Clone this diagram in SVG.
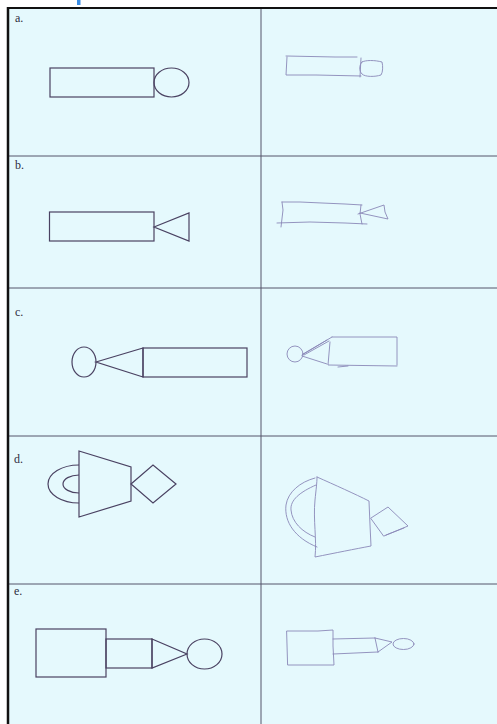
<svg xmlns="http://www.w3.org/2000/svg" width="497" height="724" viewBox="0 0 497 724">
<style>
.print{fill:none;stroke:#4a4262;stroke-width:1.2;stroke-linejoin:miter}
.pencil{fill:none;stroke:#8a88b8;stroke-width:0.9;stroke-linecap:round;stroke-linejoin:round}
.grid{stroke:#55556a;stroke-width:1}
.lbl{font-family:"Liberation Serif",serif;font-size:12px;fill:#2e2e3e}
</style>
<rect x="0" y="0" width="497" height="724" fill="#ffffff"/>
<rect x="8" y="8" width="489" height="716" fill="#e5f9fd"/>
<rect x="77" y="0" width="3.5" height="5" fill="#3a8ee6"/>
<g id="grid">
<line class="grid" x1="261" y1="9" x2="261" y2="724"/>
<line class="grid" x1="9" y1="156" x2="497" y2="156"/>
<line class="grid" x1="9" y1="288" x2="497" y2="288"/>
<line class="grid" x1="9" y1="436" x2="497" y2="436"/>
<line class="grid" x1="9" y1="584" x2="497" y2="584"/>
<line x1="7" y1="8" x2="497" y2="8" stroke="#111" stroke-width="2"/>
<line x1="8" y1="7" x2="8" y2="724" stroke="#111" stroke-width="2.5"/>
</g>
<g id="labels">
<text class="lbl" x="15" y="22">a.</text>
<text class="lbl" x="15" y="169">b.</text>
<text class="lbl" x="15" y="316">c.</text>
<text class="lbl" x="14" y="463">d.</text>
<text class="lbl" x="14" y="595">e.</text>
</g>
<g id="shape-a">
<rect class="print" x="50" y="68" width="104" height="29"/>
<ellipse class="print" cx="171.5" cy="82.5" rx="17.5" ry="14.5"/>
</g>
<g id="shape-b">
<rect class="print" x="49.5" y="212" width="104.5" height="29"/>
<polygon class="print" points="154,227 189,213 189,241"/>
</g>
<g id="shape-c">
<ellipse class="print" cx="84" cy="362" rx="12" ry="15"/>
<polygon class="print" points="96,362 143,348 143,377"/>
<rect class="print" x="143" y="348" width="104" height="29"/>
</g>
<g id="shape-d">
<path class="print" d="M79,465 A31,19 0 0 0 79,503 M79,475 A16,9 0 0 0 79,493"/>
<polygon class="print" points="79,451 131,467 131,501 79,517"/>
<polygon class="print" points="131,484 153,465 176,484 153,503"/>
</g>
<g id="shape-e">
<rect class="print" x="36" y="629" width="70" height="48"/>
<rect class="print" x="106" y="639" width="46" height="29"/>
<polygon class="print" points="152,639 187,654 152,668"/>
<ellipse class="print" cx="204.5" cy="654" rx="17.5" ry="15"/>
</g>
<g id="sketch-a">
<path class="pencil" d="M286,56 L335,57 L357,57 M287,57 L286,75 L316,75 L361,76 M361,58 L360,77"/>
<path class="pencil" d="M362,62 C365,60 375,60 382,62 C383,66 383,72 381,75 C375,77 365,77 362,74 C359,71 359,65 362,62 Z"/>
</g>
<g id="sketch-b">
<path class="pencil" d="M282,202 L300,202 L322,203 L345,204 L362,205 M282,202 L283,210 L281,227 M277,223 L310,222 L345,223 L367,224 M361,205 L360,214 L362,224"/>
<path class="pencil" d="M358,214 L384,205 L385,212 L388,219 L360,213"/>
</g>
<g id="sketch-c">
<circle class="pencil" cx="295" cy="354" r="8"/>
<path class="pencil" d="M302,355 L332,337 M303,354 L327,340 M304,355 L329,341 M302,356 L327,364"/>
<path class="pencil" d="M332,337 L397,337 L397,365 M330,342 L328,365 L397,366 M338,367 L348,366"/>
</g>
<g id="sketch-d">
<path class="pencil" d="M317,477 C335,485 355,494 369,501 L370,525 L371,546 C355,549 335,553 315,557 C317,540 313,520 315,500 C316,490 317,483 317,477"/>
<path class="pencil" d="M315,478 C300,482 288,492 286,505 C284,522 295,538 317,547 M316,485 C300,492 290,500 291,510 C292,522 302,532 315,537"/>
<path class="pencil" d="M371,518 L388,507 L408,526 L384,536 Z M386,535 L404,528"/>
</g>
<g id="sketch-e">
<path class="pencil" d="M287,631 L318,631 L333,630 L333,646 L334,665 L288,665 Z"/>
<path class="pencil" d="M333,639 L375,638 M333,654 L378,652 M375,638 L378,652 M375,638 L392,642 L378,652"/>
<ellipse class="pencil" cx="403.5" cy="644" rx="10.5" ry="5.5"/>
</g>
</svg>
